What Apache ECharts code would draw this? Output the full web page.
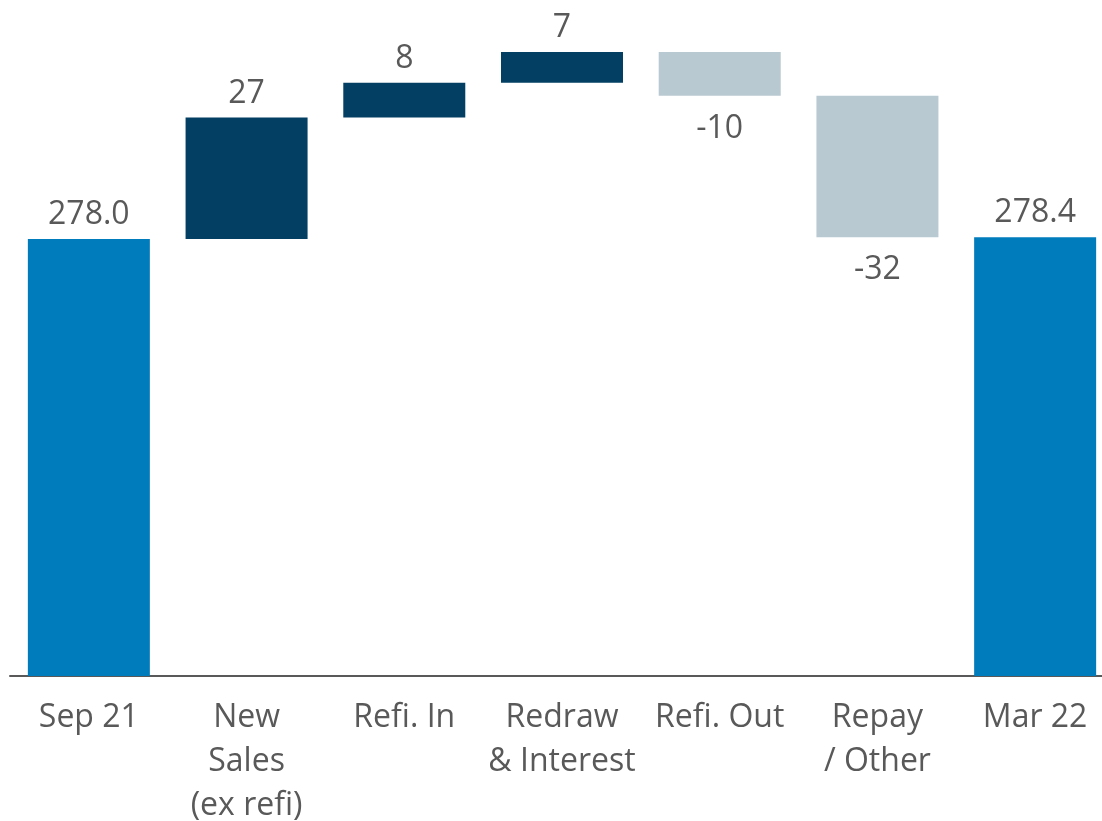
<!DOCTYPE html>
<html>
<head>
<meta charset="utf-8">
<script src="https://cdn.jsdelivr.net/npm/echarts@6/dist/echarts.min.js"></script>
<style>
  html, body { margin: 0; padding: 0; background: #fff; }
  #waterfall { width: 1102px; height: 821px; }
</style>
</head>
<body>
<div id="waterfall"></div>
<script>
// categories and values
const categories = ['Sep 21', 'New\nSales\n(ex refi)', 'Refi. In', 'Redraw\n& Interest', 'Refi. Out', 'Repay\n/ Other', 'Mar 22']
const openingBalance = 278.0
const movements = [27.2, 7.8, 6.9, -9.8, -31.7]
const closingBalance = 278.4

const totalColor = '#007bbb'
const upColor = '#023f62'
const downColor = '#b8c9d1'
const textColor = '#595959'
const font = 'Open Sans'

// build the invisible base and the visible part of each bar
const baseData = [0]
const barData = [{
  value: openingBalance,
  itemStyle: { color: totalColor },
  label: { position: 'top', formatter: openingBalance.toFixed(1) }
}]
let running = openingBalance
movements.forEach(m => {
  const up = m >= 0
  baseData.push(up ? running : running + m)
  barData.push({
    value: Math.abs(m),
    itemStyle: { color: up ? upColor : downColor },
    label: {
      position: up ? 'top' : 'bottom',
      distance: up ? 8 : 17,
      formatter: String(Math.round(m))
    }
  })
  running += m
})
baseData.push(0)
barData.push({
  value: closingBalance,
  itemStyle: { color: totalColor },
  label: { position: 'top', formatter: closingBalance.toFixed(1) }
})

const option = {
  animation: false,
  textStyle: { fontFamily: font },
  grid: {
    top: 7,
    left: 10,
    width: 1104,
    bottom: 145,
    containLabel: false,
    outerBoundsMode: 'none'
  },
  xAxis: {
    type: 'category',
    data: categories,
    axisTick: { show: false },
    axisLine: { lineStyle: { color: textColor, width: 2 } },
    axisLabel: {
      interval: 0,
      margin: 20,
      fontSize: 32,
      lineHeight: 44,
      color: textColor,
      fontFamily: font
    }
  },
  yAxis: {
    type: 'value',
    min: 180,
    max: 330,
    show: false,
    splitLine: { show: false }
  },
  series: [
    {
      name: 'base',
      type: 'bar',
      stack: 'waterfall',
      silent: true,
      barWidth: 122,
      itemStyle: { color: 'transparent' },
      data: baseData
    },
    {
      name: 'value',
      type: 'bar',
      stack: 'waterfall',
      barWidth: 122,
      label: {
        show: true,
        fontSize: 32,
        color: textColor,
        fontFamily: font,
        distance: 8
      },
      data: barData
    }
  ]
}

const chart = echarts.init(document.getElementById('waterfall'))
chart.setOption(option)
</script>
</body>
</html>
